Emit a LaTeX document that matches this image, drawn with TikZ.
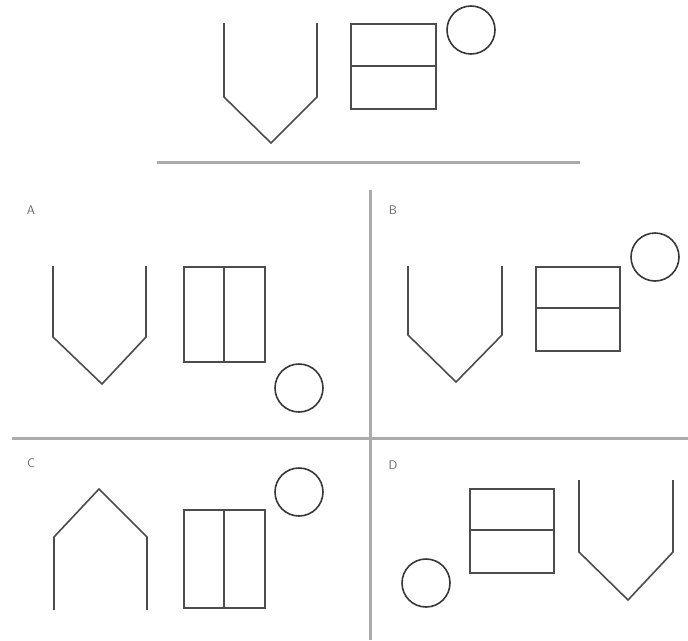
\documentclass[tikz,border=0pt]{standalone}
\usepackage{tikz}
\usetikzlibrary{positioning}

\begin{document}
\begin{tikzpicture}[
    x=1pt, y=-1pt,
    fig/.style={draw=black!70, line width=1.6pt, line join=miter},
    ring/.style={draw=black!78, line width=1.6pt},
    divider/.style={draw=black!33, line width=3pt},
    lbl/.style={font=\sffamily\fontsize{12.5}{12.5}\selectfont, text=black!60,
                inner sep=0pt},
]
    \useasboundingbox (0,0) rectangle (688,640);

    %==================== QUESTION ====================
    \draw[fig] (224,23) -- (224,97) -- (271,143) -- (317,97) -- (317,23);
    \draw[fig] (351,24) rectangle (436,109);
    \draw[fig] (351,66) -- (436,66);
    \draw[ring] (471,30) circle[radius=24];

    \draw[divider] (157,162) -- (580,162);

    %==================== grid of answers ====================
    \draw[divider] (370,190) -- (370,640);
    \draw[divider] (12,438) -- (688,438);

    %==================== A ====================
    \node[lbl] (la) at (31,210) {A};
    \draw[fig] (53,266) -- (53,337) -- (102,384) -- (146,337) -- (146,266);
    \draw[fig] (184,267) rectangle (265,362);
    \draw[fig] (224,267) -- (224,362);
    \draw[ring] (299,388) circle[radius=24];

    %==================== B ====================
    \node[lbl] (lb) at (393,210) {B};
    \draw[fig] (408,266) -- (408,335) -- (456,382) -- (502,335) -- (502,266);
    \draw[fig] (536,267) rectangle (620,351);
    \draw[fig] (536,308) -- (620,308);
    \draw[ring] (655,257) circle[radius=24];

    %==================== C ====================
    \node[lbl] (lc) at (31,463) {C};
    \draw[fig] (54,610) -- (54,537) -- (99,489) -- (147,537) -- (147,610);
    \draw[fig] (184,510) rectangle (265,608);
    \draw[fig] (224,510) -- (224,608);
    \draw[ring] (299,492) circle[radius=24];

    %==================== D ====================
    \node[lbl] (ld) at (393,465) {D};
    \draw[ring] (426,583) circle[radius=24];
    \draw[fig] (470,489) rectangle (554,573);
    \draw[fig] (470,530) -- (554,530);
    \draw[fig] (579,480) -- (579,552) -- (628,600) -- (673,552) -- (673,480);

\end{tikzpicture}
\end{document}
